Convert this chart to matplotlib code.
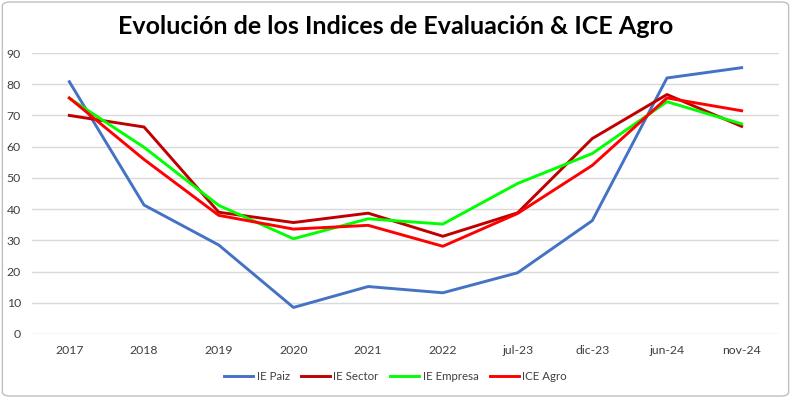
import matplotlib.pyplot as plt
from matplotlib.patches import FancyBboxPatch

# Data
periods = ['2017', '2018', '2019', '2020', '2021', '2022', 'jul-23', 'dic-23', 'jun-24', 'nov-24']
ie_paiz = [80.8, 41.3, 28.5, 8.5, 15.2, 13.2, 19.6, 36.3, 82.0, 85.3]
ie_sector = [70.0, 66.3, 39.0, 35.7, 38.7, 31.3, 38.8, 62.6, 76.7, 66.5]
ie_empresa = [75.5, 59.8, 41.2, 30.5, 36.9, 35.2, 48.2, 57.8, 74.4, 67.3]
ice_agro = [75.6, 55.9, 38.0, 33.6, 34.8, 28.1, 38.6, 54.0, 75.6, 71.5]

plt.rcParams['font.family'] = ['Lato', 'DejaVu Sans']

fig = plt.figure(figsize=(7.91, 3.98), dpi=100)
ax = fig.add_axes([32 / 791, 1 - 334 / 398, (779 - 32) / 791, (334 - 53) / 398])

x = range(len(periods))
ax.plot(x, ie_paiz, color='#4472C4', lw=2.1, label='IE Paiz')
ax.plot(x, ie_sector, color='#C00000', lw=2.1, label='IE Sector')
ax.plot(x, ie_empresa, color='#00FF00', lw=2.1, label='IE Empresa')
ax.plot(x, ice_agro, color='#FF0000', lw=2.1, label='ICE Agro')

ax.set_xlim(-0.5, len(periods) - 0.5)
ax.set_ylim(0, 90)
ax.set_yticks(range(0, 91, 10))
ax.set_xticks(list(x))
ax.set_xticklabels(periods)
ax.yaxis.grid(True, color='#D9D9D9', lw=1)
ax.set_axisbelow(True)
for s in ax.spines.values():
    s.set_visible(False)
ax.tick_params(length=0, labelsize=8.8, colors='#404040', pad=8)

fig.text(0.5, 1 - 27 / 398, 'Evolución de los Indices de Evaluación & ICE Agro',
         ha='center', va='center', fontsize=18, fontweight='bold')

fig.legend(loc='center', bbox_to_anchor=(0.5, 1 - 377 / 398), ncol=4, frameon=False,
           fontsize=8.3, handlelength=2.5, columnspacing=1.0, handletextpad=0.3,
           labelcolor='#404040')

border = FancyBboxPatch((0.003, 0.005), 0.994, 0.99, boxstyle='round,pad=0,rounding_size=0.01',
                        transform=fig.transFigure, fill=False, ec='#BFBFBF', lw=1)
fig.patches.append(border)

fig.savefig('out.png', dpi=100)
